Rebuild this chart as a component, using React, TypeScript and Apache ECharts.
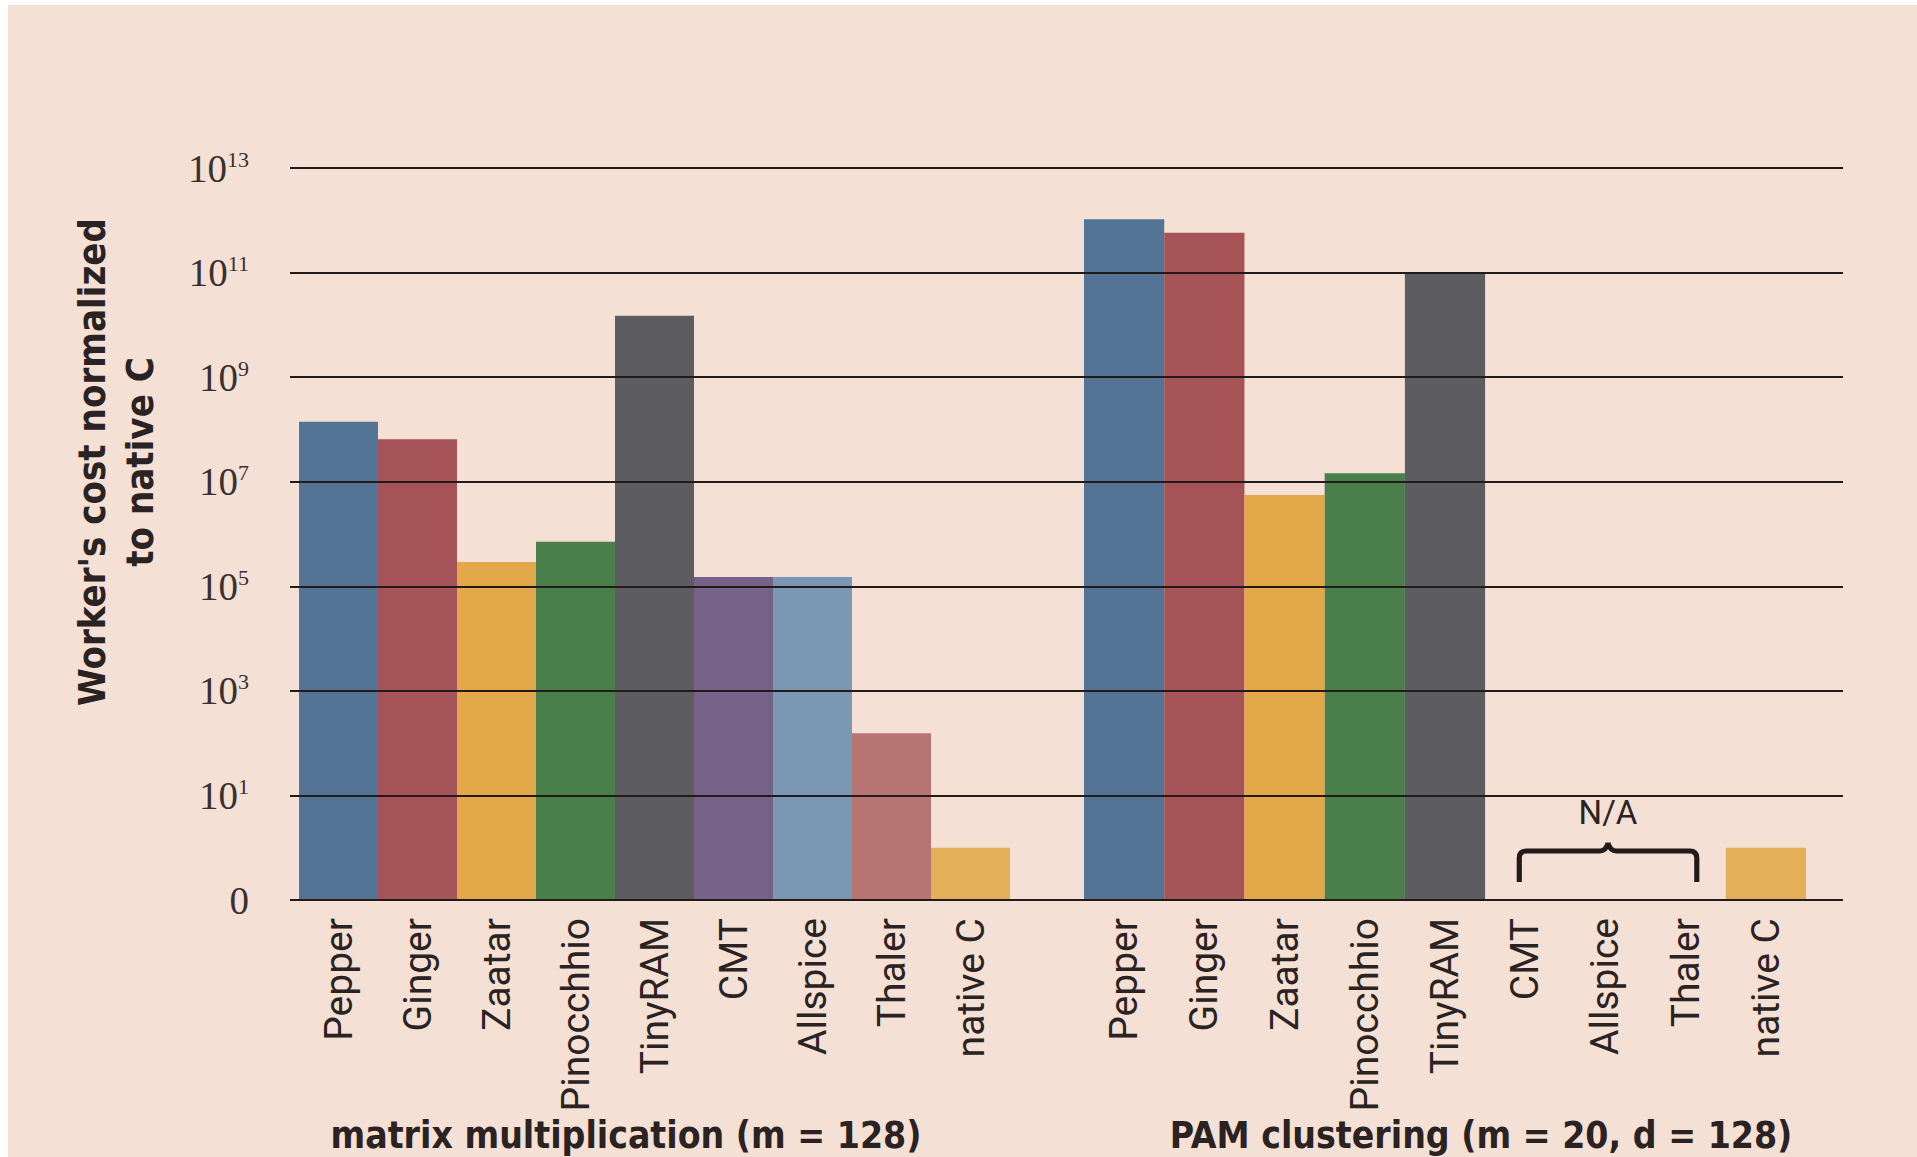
import React, { useEffect, useRef } from 'react';
import * as echarts from 'echarts';

// ---- data ----
const systems = ['Pepper', 'Ginger', 'Zaatar', 'Pinocchhio', 'TinyRAM', 'CMT', 'Allspice', 'Thaler', 'native C'];
const systemColors = ['#537494', '#a65357', '#e2a84a', '#4a7e4b', '#5d5c61', '#766189', '#7a98b4', '#b87473', '#e4af59'];
// worker's cost normalized to native C
const matrixCost = [1.4e8, 6.5e7, 2.9e5, 7.1e5, 1.5e10, 1.5e5, 1.5e5, 155, 1];
const pamCost = [1.05e12, 5.8e11, 5.6e6, 1.45e7, 1.0e11, null, null, null, 1];
const groupNames = ['matrix multiplication (m = 128)', 'PAM clustering (m = 20, d = 128)'];
const yTickExponents = ['0', '1', '3', '5', '7', '9', '11', '13'];
const axisFloor = 0.1; // the "0" tick of the log axis
const naLabel = 'N/A';

const braceD = 'M2,40 L2,16 Q2,9 9,9 L80,9 Q86,9 88,1 Q90,9 96,9 L167,9 Q174,9 174,16 L174,40';
echarts.graphic.registerShape('brace', echarts.graphic.extendPath(braceD, {}));

const sansLight = 'Roboto, "Liberation Sans", sans-serif';
const sansBold = '"Liberation Sans Narrow", "DejaVu Sans Condensed", "Liberation Sans", sans-serif';
const serif = '"Liberation Serif", "DejaVu Serif", serif';
const ink = '#2b2222';

export default function App() {
  const ref = useRef<HTMLDivElement>(null);
  useEffect(() => {
    const chart = echarts.init(ref.current!, null, { renderer: 'svg' });
    const toAxis = (v: number | null) => (v == null ? null : Math.log10(v) - Math.log10(axisFloor));
    const vt = { top: 163, bottom: 257 };
    const grids = [
      { left: 282, right: 74, ...vt },
      { left: 291, right: 907, ...vt },
      { left: 1076, right: 111, ...vt },
    ];
    const catAxis = (gridIndex: number) => ({
      gridIndex,
      type: 'category',
      data: systems,
      axisLine: { show: false },
      axisTick: { show: false },
      axisLabel: {
        interval: 0,
        rotate: 90,
        margin: 18,
        fontSize: 39,
        fontFamily: sansLight,
        color: ink,
      },
    });
    const hiddenY = (gridIndex: number) => ({
      gridIndex, type: 'value', min: 0, max: 14, interval: 2, show: false, splitLine: { show: false },
    });
    const barSeries = (axisIndex: number, values: (number | null)[]) => ({
      type: 'bar',
      xAxisIndex: axisIndex,
      yAxisIndex: axisIndex,
      barCategoryGap: '0%',
      data: values.map((c, i) => ({ value: toAxis(c), itemStyle: { color: systemColors[i] } })),
    });
    chart.setOption({
      animation: false,
      backgroundColor: '#f4e0d5',
      grid: grids,
      xAxis: [
        { gridIndex: 0, type: 'value', show: false, min: 0, max: 1 },
        catAxis(1),
        catAxis(2),
      ],
      yAxis: [
        {
          gridIndex: 0,
          type: 'value',
          min: 0,
          max: 14,
          interval: 2,
          z: 5,
          axisLine: { show: false },
          axisTick: { show: false },
          splitLine: { show: true, lineStyle: { color: '#231a1a', width: 2 } },
          axisLabel: {
            margin: 41,
            formatter: (_v: number, i: number) =>
              yTickExponents[i] === '0' ? '{b|0}' : `{b|10}{s|${yTickExponents[i]}}`,
            rich: {
              b: { fontSize: 39, fontFamily: serif, color: '#3a3030', lineHeight: 40 },
              s: { fontSize: 22, fontFamily: serif, color: '#3a3030', lineHeight: 22, verticalAlign: 'top' },
            },
          },
        },
        hiddenY(1),
        hiddenY(2),
      ],
      series: [barSeries(1, matrixCost), barSeries(2, pamCost)],
    });

    const cmtX = chart.convertToPixel({ xAxisIndex: 2 }, 5) as number;
    const thalerX = chart.convertToPixel({ xAxisIndex: 2 }, 7) as number;
    const y0 = chart.convertToPixel({ yAxisIndex: 2 }, 0) as number;
    const leftLeg = cmtX - 6;
    const rightLeg = thalerX + 11;
    chart.setOption({
      graphic: [
        {
          type: 'brace',
          x: leftLeg - 2,
          y: y0 - 58,
          scaleX: (rightLeg - leftLeg) / 172,
          scaleY: 1,
          shape: {},
          style: { fill: 'none', stroke: '#231a1a', lineWidth: 5, strokeNoScale: true },
        },
        {
          type: 'text',
          x: (leftLeg + rightLeg) / 2,
          y: y0 - 88,
          style: { text: naLabel, fontSize: 33, fontFamily: sansLight, fill: ink, align: 'center', verticalAlign: 'middle' },
        },
        {
          type: 'text',
          x: 108,
          y: 457,
          rotation: Math.PI / 2,
          style: {
            text: "Worker's cost normalized\nto native C",
            fontSize: 38,
            fontWeight: 'bold',
            fontFamily: sansBold,
            fill: ink,
            align: 'center',
            verticalAlign: 'middle',
            lineHeight: 48,
          },
        },
        {
          type: 'text',
          x: 618,
          y: 1130,
          style: { text: groupNames[0], fontSize: 37, fontWeight: 'bold', fontFamily: sansBold, fill: ink, align: 'center', verticalAlign: 'middle' },
        },
        {
          type: 'text',
          x: 1473,
          y: 1130,
          style: { text: groupNames[1], fontSize: 37, fontWeight: 'bold', fontFamily: sansBold, fill: ink, align: 'center', verticalAlign: 'middle' },
        },
      ],
    });
    return () => chart.dispose();
  }, []);
  return (
    <div
      ref={ref}
      style={{ position: 'absolute', left: 8, top: 5, width: 1909, height: 1152 }}
    />
  );
}
